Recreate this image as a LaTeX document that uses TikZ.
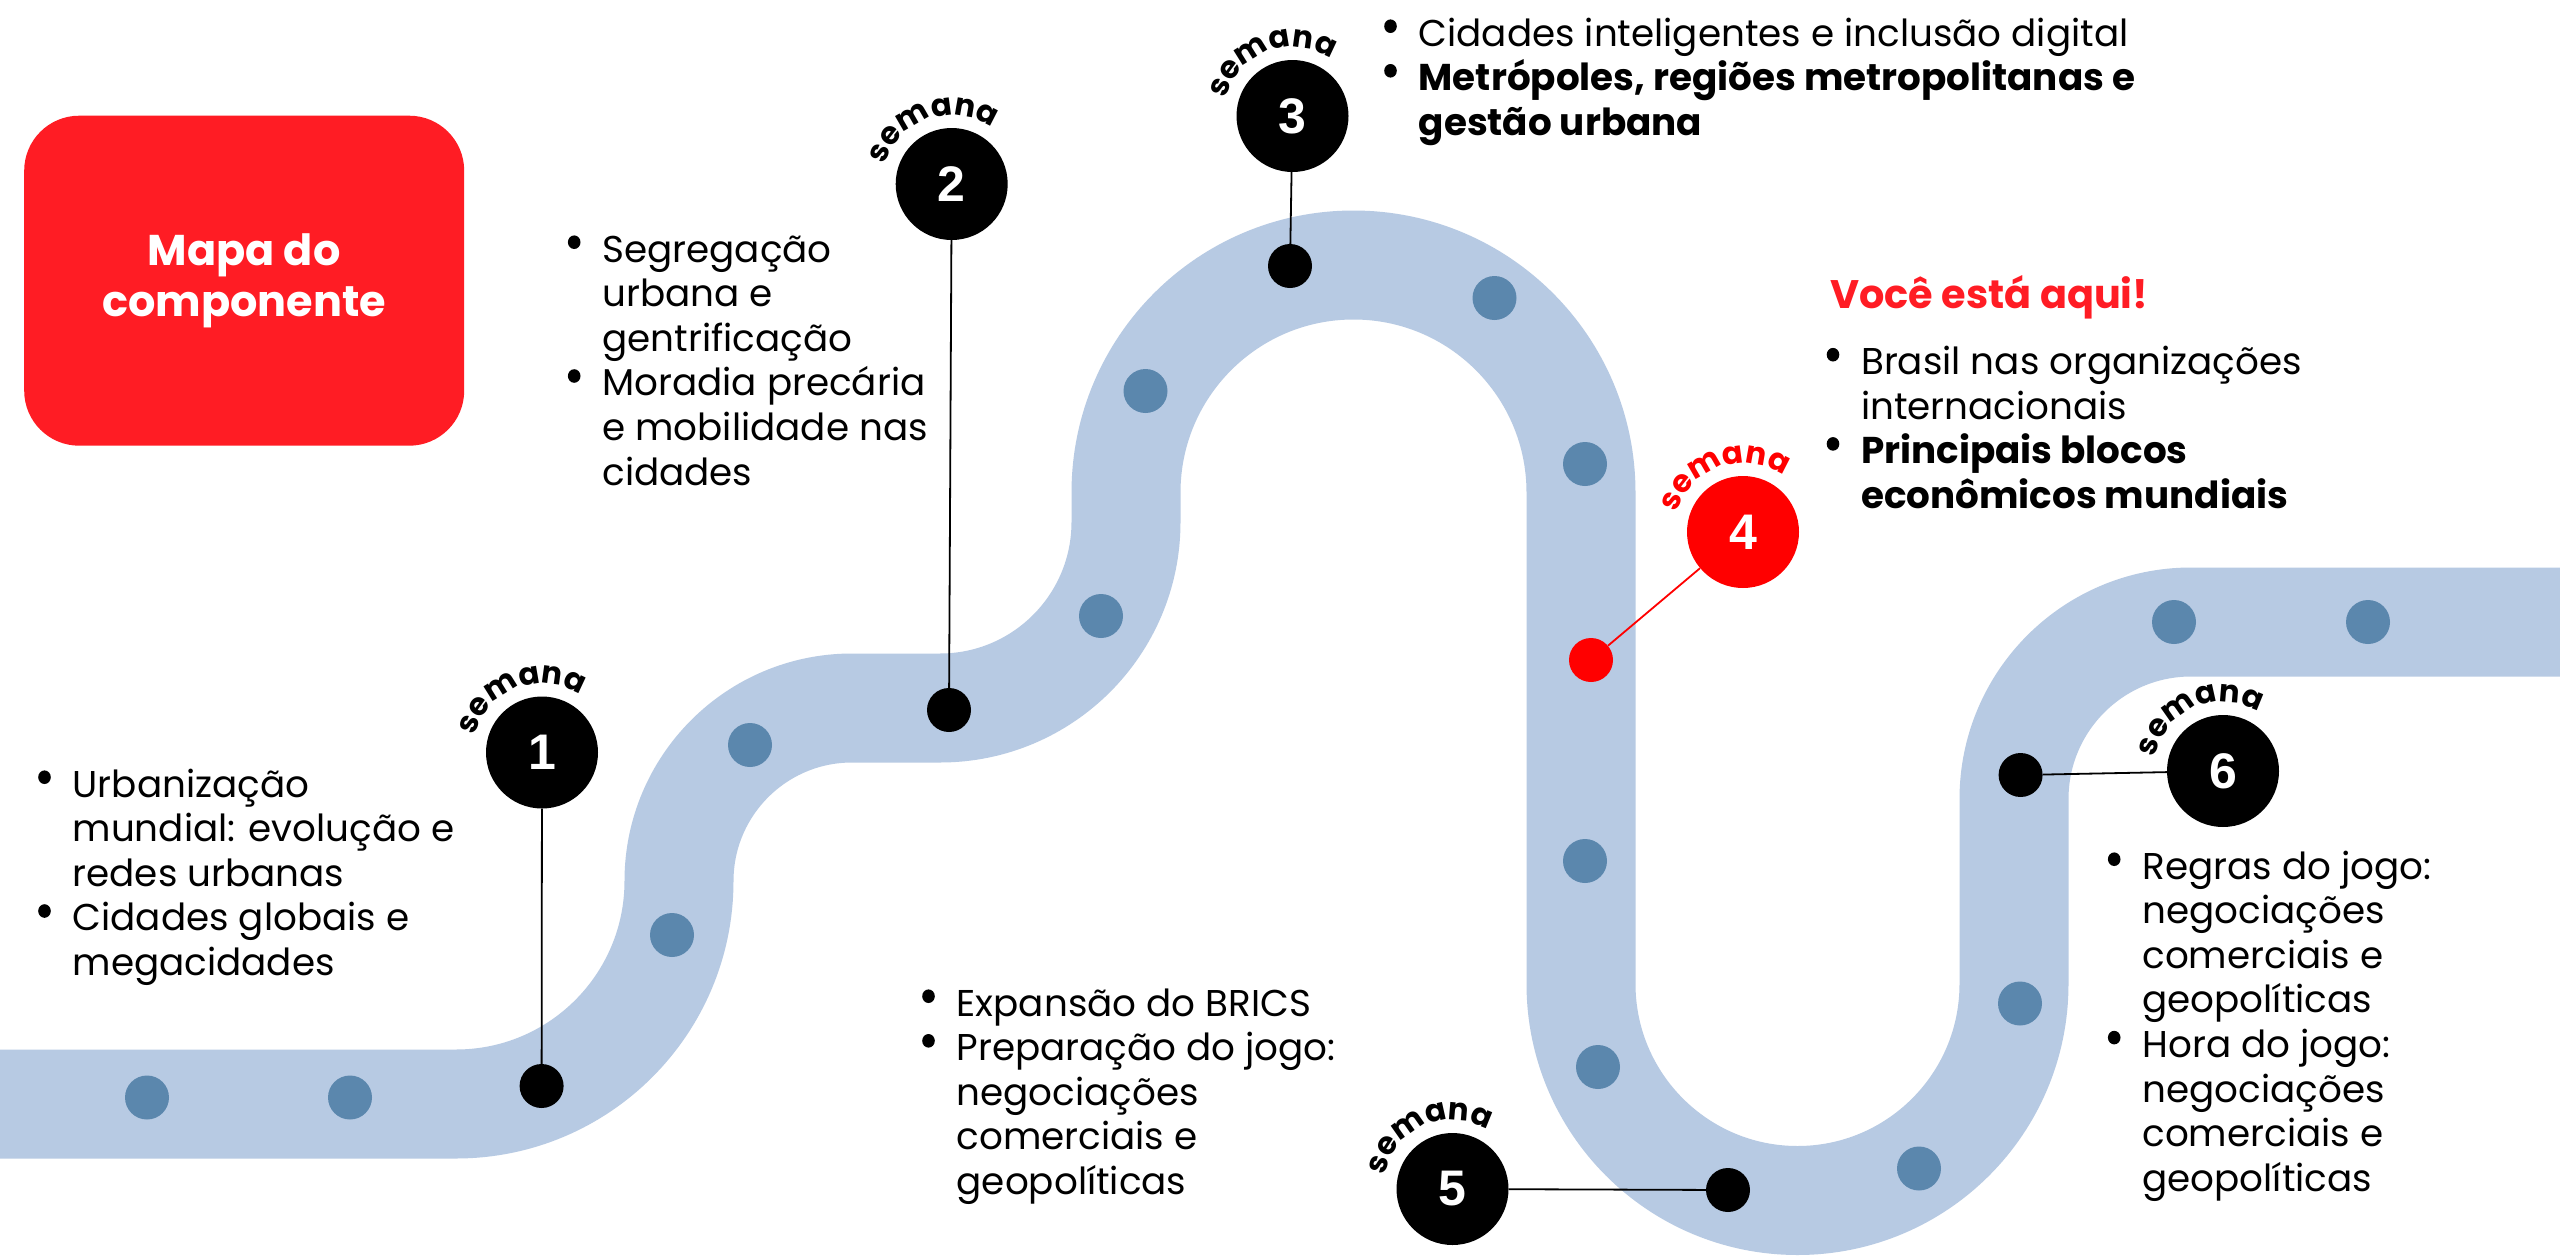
\documentclass[tikz,border=0pt]{standalone}
\usepackage{fontspec}
\setmainfont{Poppins}
\newfontfamily\numfont{Liberation Sans}
\usetikzlibrary{decorations.text}
\definecolor{roadblue}{HTML}{B7CAE3}
\definecolor{dotblue}{HTML}{5B87AD}
\definecolor{boxred}{HTML}{FF1C24}
\definecolor{hered}{HTML}{FF0000}
\newcommand\bul{\makebox[34.5pt][l]{\raisebox{13pt}{\tikz\fill[black] (0,0) ellipse (6.3pt and 6.8pt);}}}
\newcommand\semfont{\bfseries\fontsize{31}{31}\selectfont}
\begin{document}
\begin{tikzpicture}[x=1pt,y=1pt,
  road/.style={draw=roadblue,line width=109pt},
  bdot/.style={circle,fill=dotblue,minimum size=44pt,inner sep=0pt},
  kdot/.style={circle,fill=black,minimum size=44pt,inner sep=0pt},
  rdot/.style={circle,fill=hered,minimum size=44pt,inner sep=0pt},
  week/.style={circle,fill=black,minimum size=112pt,inner sep=0pt,text=white,font=\numfont\bfseries\fontsize{50}{50}\selectfont},
  conn/.style={draw=black,line width=1.8pt},
  txt/.style={anchor=base west,inner sep=0pt,text=black,font=\fontsize{37.3}{44.6}\selectfont},
  sem/.style={decorate,decoration={text along path,text align=center,text={|\semfont|semana}}},
  semr/.style={decorate,decoration={text along path,text align=center,text={|\semfont\color{hered}|semana}}}
]
\useasboundingbox (0,0) rectangle (2560,-1256);
\fill[white] (0,0) rectangle (2560,-1256);

% road
\draw[road] (0,-1104) -- (456,-1104)
  arc[start angle=-90,end angle=0,radius=223]
  arc[start angle=180,end angle=90,radius=173]
  -- (940,-708)
  arc[start angle=-90,end angle=0,radius=186]
  -- (1126,-492.5)
  arc[start angle=180,end angle=0,radius=227.5]
  -- (1581,-984)
  arc[start angle=180,end angle=360,radius=216.5]
  -- (2014,-799)
  arc[start angle=180,end angle=90,radius=177]
  -- (2560,-622);

% blue dots
\node[bdot] (p1) at (147,-1097.5) {};
\node[bdot] (p2) at (350,-1097.5) {};
\node[bdot] (p3) at (672,-935) {};
\node[bdot] (p4) at (750,-745) {};
\node[bdot] (p5) at (1101,-616) {};
\node[bdot] (p6) at (1145.5,-391) {};
\node[bdot] (p7) at (1494.5,-298) {};
\node[bdot] (p8) at (1585,-464) {};
\node[bdot] (p9) at (1585,-861) {};
\node[bdot] (p10) at (1598,-1067) {};
\node[bdot] (p11) at (1919,-1168.5) {};
\node[bdot] (p12) at (2020,-1003.5) {};
\node[bdot] (p13) at (2174,-622) {};
\node[bdot] (p14) at (2368,-622) {};

% milestone dots
\node[kdot] (d1) at (541.6,-1086) {};
\node[kdot] (d2) at (949,-710) {};
\node[kdot] (d3) at (1290,-266) {};
\node[rdot] (d4) at (1591,-660) {};
\node[kdot] (d5) at (1728,-1190) {};
\node[kdot] (d6) at (2020.6,-775) {};

% week circles
\node[week] (c1) at (542,-752.5) {1};
\node[week] (c2) at (951.7,-184) {2};
\node[week] (c3) at (1292.5,-116) {3};
\node[week,fill=hered] (c4) at (1743,-532) {4};
\node[week] (c5) at (1452.5,-1189) {5};
\node[week] (c6) at (2223,-771) {6};

% connectors
\draw[conn] (c1) -- (d1);
\draw[conn] (c2) -- (d2);
\draw[conn] (c3) -- (d3);
\draw[conn,draw=hered] (c4) -- (d4);
\draw[conn] (c5) -- (d5);
\draw[conn] (c6) -- (d6);

% semana labels
\path[sem] ([shift={(182:69)}]c1.center) arc[start angle=182,end angle=40,radius=69];
\path[sem] ([shift={(180:69)}]c2.center) arc[start angle=180,end angle=38,radius=69];
\path[sem] ([shift={(181:69)}]c3.center) arc[start angle=181,end angle=41,radius=69];
\path[semr] ([shift={(179:69)}]c4.center) arc[start angle=179,end angle=39,radius=69];
\path[sem] ([shift={(184:69)}]c5.center) arc[start angle=184,end angle=44,radius=69];
\path[sem] ([shift={(184:69)}]c6.center) arc[start angle=184,end angle=44,radius=69];

% title box
\node[rectangle,rounded corners=55pt,fill=boxred,minimum width=440pt,minimum height=330pt,
  text=white,align=center,font=\bfseries\fontsize{43}{51.6}\selectfont] (mapa) at (244.2,-280.7) {Mapa do\\componente};

% text blocks
\node[txt] (t1) at (38,-797) {\begin{tabular}[t]{@{}l@{}l@{}}
\bul&Urbanização\\
&mundial: evolução e\\
&redes urbanas\\
\bul&Cidades globais e\\
&megacidades\end{tabular}};

\node[txt] (t2) at (567.7,-262) {\begin{tabular}[t]{@{}l@{}l@{}}
\bul&Segregação\\
&urbana e\\
&gentrificação\\
\bul&Moradia precária\\
&e mobilidade nas\\
&cidades\end{tabular}};

\node[txt] (t3) at (1384,-46) {\begin{tabular}[t]{@{}l@{}l@{}}
\bul&Cidades inteligentes e inclusão digital\\
\bul&\textbf{Metrópoles, regiões metropolitanas e}\\
&\textbf{gestão urbana}\end{tabular}};

\node[txt,text=boxred,font=\bfseries\fontsize{39.8}{44.6}\selectfont] (here) at (1830,-308) {Você está aqui!};

\node[txt] (t4) at (1826.5,-374.5) {\begin{tabular}[t]{@{}l@{}l@{}}
\bul&Brasil nas organizações\\
&internacionais\\
\bul&\textbf{Principais blocos}\\
&\textbf{econômicos mundiais}\end{tabular}};

\node[txt] (t5) at (922,-1016) {\begin{tabular}[t]{@{}l@{}l@{}}
\bul&Expansão do BRICS\\
\bul&Preparação do jogo:\\
&negociações\\
&comerciais e\\
&geopolíticas\end{tabular}};

\node[txt] (t6) at (2107.7,-879) {\begin{tabular}[t]{@{}l@{}l@{}}
\bul&Regras do jogo:\\
&negociações\\
&comerciais e\\
&geopolíticas\\
\bul&Hora do jogo:\\
&negociações\\
&comerciais e\\
&geopolíticas\end{tabular}};
\end{tikzpicture}
\end{document}
